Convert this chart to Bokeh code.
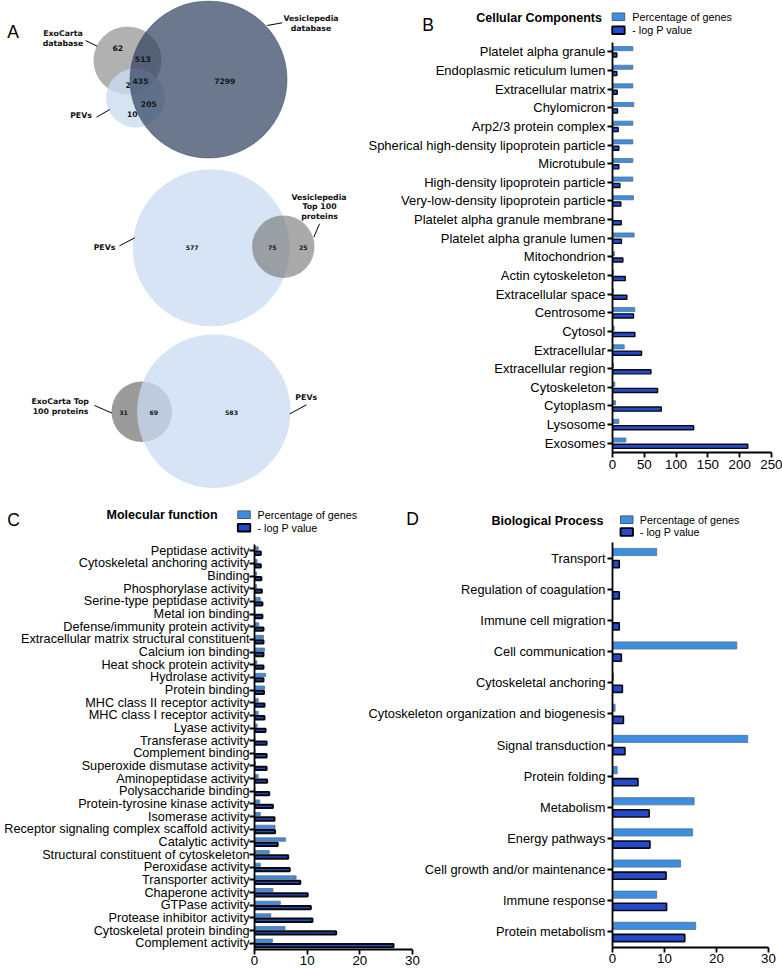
from bokeh.plotting import figure
from bokeh.models import Range1d, FactorRange, FixedTicker, ColumnDataSource
from bokeh.transform import dodge
from bokeh.core.properties import value
from bokeh.embed import file_html
from bokeh.resources import INLINE

# ---------------- data ----------------
venn1_names = ["ExoCarta", "database", "Vesiclepedia", "database", "PEVs"]
venn1_counts = ["62", "513", "435", "2", "7299", "205", "10"]
venn2_names = ["PEVs", "Vesiclepedia", "Top 100", "proteins"]
venn2_counts = ["577", "75", "25"]
venn3_names = ["ExoCarta Top", "100 proteins", "PEVs"]
venn3_counts = ["31", "69", "583"]

legend_labels = ["Percentage of genes", "- log P value"]
panel_letters = ["A", "B", "C", "D"]
panel_titles = ["Cellular Components", "Molecular function", "Biological Process"]

cc_categories = ["Platelet alpha granule", "Endoplasmic reticulum lumen", "Extracellular matrix",
                 "Chylomicron", "Arp2/3 protein complex", "Spherical high-density lipoprotein particle",
                 "Microtubule", "High-density lipoprotein particle", "Very-low-density lipoprotein particle",
                 "Platelet alpha granule membrane", "Platelet alpha granule lumen", "Mitochondrion",
                 "Actin cytoskeleton", "Extracellular space", "Centrosome", "Cytosol", "Extracellular",
                 "Extracellular region", "Cytoskeleton", "Cytoplasm", "Lysosome", "Exosomes"]
cc_percentage = [32, 32, 32, 33.5, 32, 32, 32, 32, 33, 0, 34, 3, 1.6, 1.6, 35, 2.6, 18.4, 1.6,
                 3.7, 4.7, 10, 21]
cc_logp = [6.8, 6.8, 7.4, 7.9, 8.9, 10, 10, 11.6, 13.1, 13.7, 14, 16.3, 20, 22.6, 33, 35.2, 45.7,
           60.4, 70.9, 76.7, 127.6, 212.7]
cc_ticks = [0, 50, 100, 150, 200, 250]

mf_categories = ["Peptidase activity", "Cytoskeletal anchoring activity", "Binding",
                 "Phosphorylase activity", "Serine-type peptidase activity", "Metal ion binding",
                 "Defense/immunity protein activity", "Extracellular matrix structural constituent",
                 "Calcium ion binding", "Heat shock protein activity", "Hydrolase activity",
                 "Protein binding", "MHC class II receptor activity", "MHC class I receptor activity",
                 "Lyase activity", "Transferase activity", "Complement binding",
                 "Superoxide dismutase activity", "Aminopeptidase activity", "Polysaccharide binding",
                 "Protein-tyrosine kinase activity", "Isomerase activity",
                 "Receptor signaling complex scaffold activity", "Catalytic activity",
                 "Structural constituent of cytoskeleton", "Peroxidase activity",
                 "Transporter activity", "Chaperone activity", "GTPase activity",
                 "Protease inhibitor activity", "Cytoskeletal protein binding", "Complement activity"]
mf_percentage = [0.7, 0.5, 0.4, 0.4, 1.1, 0.1, 0.8, 1.7, 1.9, 0.45, 2.1, 1.9, 0.7, 0.7, 0.5, 0.1,
                 0.1, 0.2, 0.7, 0.1, 1.0, 1.1, 3.9, 5.9, 2.8, 1.1, 7.9, 3.5, 4.9, 3.1, 5.8, 3.4]
mf_logp = [1.2, 1.2, 1.3, 1.4, 1.5, 1.5, 1.7, 1.7, 1.7, 1.7, 1.7, 1.8, 1.9, 1.9, 2.1, 2.3, 2.3, 2.3,
           2.4, 2.8, 3.5, 3.8, 3.9, 4.4, 6.4, 6.7, 8.7, 10.1, 10.7, 11.0, 15.5, 26.4]
mf_ticks = [0, 10, 20, 30]

bp_categories = ["Transport", "Regulation of coagulation", "Immune cell migration",
                 "Cell communication", "Cytoskeletal anchoring",
                 "Cytoskeleton organization and biogenesis", "Signal transduction",
                 "Protein folding", "Metabolism", "Energy pathways",
                 "Cell growth and/or maintenance", "Immune response", "Protein metabolism"]
bp_percentage = [8.5, 0, 0, 23.9, 0.2, 0.5, 26.0, 0.9, 15.7, 15.4, 13.1, 8.5, 16.0]
bp_logp = [1.3, 1.3, 1.3, 1.7, 1.9, 2.1, 2.4, 4.9, 7.05, 7.2, 10.3, 10.4, 13.9]
bp_ticks = [0, 10, 20, 30]

# ---------------- layout / style ----------------
# The figures are stacked on top of each other at the window's top-left corner;
# each one is exactly the size of the window.
W, H = 782, 969
POS = {"position": "absolute", "left": "0px", "top": "0px"}


def fpx(v):
    return "%.2fpx" % v


PCT_FILL, PCT_LINE = "#3b8ee2", "#5d6f82"
LOGP_FILL, LOGP_LINE = "#2449cc", "#0a0a0a"
ARIAL = value("Liberation Sans")
VENN_FONT = value("DejaVu Sans")

# ---------- background figure: Venn diagrams, panel letters, titles, legends ----------
bg = figure(width=W, height=H, output_backend="svg", toolbar_location=None, title=None,
            x_range=Range1d(0, W), y_range=Range1d(H, 0),
            x_axis_location=None, y_axis_location=None,
            min_border=0, min_border_left=0, min_border_right=0,
            min_border_top=0, min_border_bottom=0, styles=dict(POS))
bg.grid.visible = False
bg.outline_line_color = None

# Venn 1
bg.circle(x=[127], y=[60], radius=34, fill_color="#b1b1b1", line_color=None)
bg.circle(x=[135], y=[97.5], radius=29.5, fill_color="#cadcf0", fill_alpha=0.8, line_color=None)
bg.circle(x=[208], y=[79], radius=78.5, fill_color="#2c3f5c", fill_alpha=0.7,
          line_color="#3a4658", line_alpha=0.5, line_width=1)
# Venn 2
bg.circle(x=[210.8], y=[247.2], radius=78.5, fill_color="#d6e4f5", line_color=None)
bg.circle(x=[282.8], y=[246.2], radius=31.2, fill_color="#717171", fill_alpha=0.6, line_color=None)
# Venn 3
bg.circle(x=[141.3], y=[411.3], radius=30.3, fill_color="#9b9b9b", line_color=None)
bg.circle(x=[213.3], y=[410.7], radius=76.7, fill_color="#c8dbf2", fill_alpha=0.75, line_color=None)

# callout lines
bg.segment(x0=[85, 266.7, 96, 119, 319, 94, 306],
           y0=[40, 25, 116.7, 245.3, 223.3, 405, 404.3],
           x1=[96.7, 281.7, 109.3, 134.3, 313.3, 111.7, 289.3],
           y1=[45.7, 22.3, 109, 237.3, 236.7, 412.7, 413.3],
           line_color="black", line_width=1)

venn_label_kw = dict(text_font=VENN_FONT, text_font_style="bold", text_font_size=fpx(7.8),
                     text_align="center", text_baseline="middle", text_color="#111111")
bg.text(x=[62.5, 62.5, 310.5, 310.5, 80.5], y=[33.3, 43.3, 17.7, 28.3, 115],
        text=venn1_names, **venn_label_kw)
bg.text(x=[104, 318.5, 319, 319], y=[246.7, 196.7, 206, 215.7], text=venn2_names, **venn_label_kw)
bg.text(x=[59.7, 60, 305.7], y=[400.7, 410.7, 396.7], text=venn3_names, **venn_label_kw)

venn_num_kw = dict(text_font=VENN_FONT, text_font_style="bold", text_font_size=fpx(7.6),
                   text_align="center", text_baseline="middle", text_color="#151515")
bg.text(x=[117.3, 142.3, 140, 127.7, 224.3, 148.3, 131.7],
        y=[47.7, 58.3, 80, 84.3, 80, 103.3, 113.3], text=venn1_counts, **venn_num_kw)
venn_num_kw2 = dict(venn_num_kw, text_font_size=fpx(6.2))
bg.text(x=[191.7, 271.7, 302.7], y=[246.7, 246.7, 246.7], text=venn2_counts, **venn_num_kw2)
bg.text(x=[123, 153.3, 231], y=[411.7, 411.7, 411.7], text=venn3_counts, **venn_num_kw2)

# panel letters
bg.text(x=[12.5, 427.5, 13, 412], y=[31, 24, 519, 518], text=panel_letters,
        text_font=ARIAL, text_font_size=fpx(17.5), text_align="center",
        text_baseline="middle", text_color="black")

# titles
bg.text(x=[475.7, 106, 491], y=[17.3, 514, 520], text=panel_titles,
        text_font=ARIAL, text_font_style="bold", text_font_size=fpx(12.5),
        text_align="left", text_baseline="middle", text_color="black")

# legends (B, C, D)
leg_x = [611.7, 237.3, 620]
leg_y1 = [16.3, 514.2, 519.2]
leg_y2 = [29.7, 527.2, 531.5]
leg_tx = [631.7, 257, 639.3]
bg.quad(left=leg_x, right=[v + 12.5 for v in leg_x], top=[v - 3.8 for v in leg_y1],
        bottom=[v + 3.8 for v in leg_y1], fill_color=PCT_FILL, line_color="#4a5a6a", line_width=1)
bg.quad(left=leg_x, right=[v + 12.5 for v in leg_x], top=[v - 3.8 for v in leg_y2],
        bottom=[v + 3.8 for v in leg_y2], fill_color=LOGP_FILL, line_color="black", line_width=1.8)
leg_kw = dict(text_font=ARIAL, text_font_size=fpx(10.8), text_align="left",
              text_baseline="middle", text_color="black")
bg.text(x=leg_tx, y=leg_y1, text=[legend_labels[0]] * 3, **leg_kw)
bg.text(x=leg_tx, y=leg_y2, text=[legend_labels[1]] * 3, **leg_kw)


# ---------- bar charts (overlay figures with transparent backgrounds) ----------
def chart(cats, pct, logp, left, right, top, bottom, xmax, ticks, bar_h, off,
          tick_out, standoff, ylab_standoff, logp_lw, ylab_size):
    src = ColumnDataSource(dict(cat=cats, pct=pct, logp=logp))
    p = figure(width=W, height=H, output_backend="svg", toolbar_location=None, title=None,
               x_range=Range1d(0, xmax), y_range=FactorRange(factors=cats[::-1]),
               min_border_left=int(round(left)),
               min_border_right=int(round(W - right)),
               min_border_top=int(round(top)),
               min_border_bottom=int(round(H - bottom)),
               styles=dict(POS))
    p.y_range.range_padding = 0
    p.background_fill_color = None
    p.border_fill_color = None
    p.outline_line_color = None
    p.grid.visible = False
    p.hbar(y=dodge("cat", off, range=p.y_range), left=0, right="pct", height=bar_h, source=src,
           fill_color=PCT_FILL, line_color=PCT_LINE, line_width=0.8)
    p.hbar(y=dodge("cat", -off, range=p.y_range), left=0, right="logp", height=bar_h, source=src,
           fill_color=LOGP_FILL, line_color=LOGP_LINE, line_width=logp_lw)
    p.xaxis.ticker = FixedTicker(ticks=ticks)
    for ax in (p.xaxis[0], p.yaxis[0]):
        ax.axis_line_width = 1.8
        ax.axis_line_color = "black"
        ax.major_tick_line_width = 1.8
        ax.major_tick_line_color = "black"
        ax.major_tick_out = tick_out
        ax.major_tick_in = 0
        ax.minor_tick_line_color = None
        ax.major_label_text_font = "Liberation Sans"
        ax.major_label_text_color = "black"
    p.yaxis.major_label_text_font_size = fpx(ylab_size)
    p.yaxis.major_label_standoff = ylab_standoff
    p.xaxis.major_label_text_font_size = fpx(13.3)
    p.xaxis.major_label_standoff = standoff
    return p


figB = chart(cc_categories, cc_percentage, cc_logp, 612.3, 771, 42.4, 452.3, 250, cc_ticks,
             0.22, 0.17, 5, 2, 2, 1.4, 13.0)
figC = chart(mf_categories, mf_percentage, mf_logp, 254, 411.5, 543.6, 948.5, 30, mf_ticks,
             0.26, 0.19, 5, 1, 0, 2.0, 12.7)
figD = chart(bp_categories, bp_percentage, bp_logp, 612.3, 768.3, 542.4, 947.5, 30, bp_ticks,
             0.23, 0.195, 5, 1, 2, 1.6, 12.8)

open("out.html", "w").write(file_html([bg, figB, figC, figD], INLINE))
